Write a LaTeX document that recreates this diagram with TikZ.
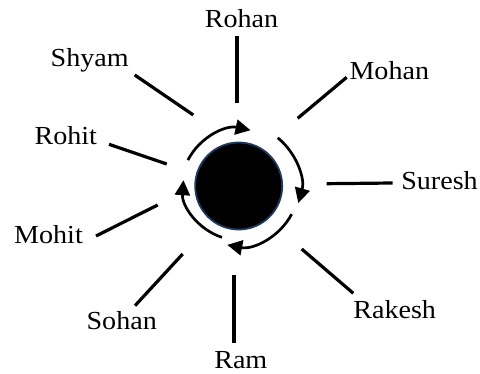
\documentclass[tikz,border=0pt]{standalone}
\usepackage{fontspec}
\setmainfont{Liberation Serif}[FakeStretch=1.08]
\usetikzlibrary{arrows.meta}
\definecolor{rimblue}{HTML}{1F3A60}
\begin{document}
\begin{tikzpicture}[x=1pt,y=-1pt,
  lbl/.style={anchor=base, inner sep=0pt, font=\fontsize{26}{30}\selectfont},
  spoke/.style={line width=3.2pt},
  cyc/.style={line width=2.7pt, -{Triangle[length=15pt,width=15pt]}}]
\useasboundingbox (0,0) rectangle (480,374);
% centre
\node[circle, fill=black, draw=rimblue, line width=1.8pt, minimum size=87pt, inner sep=0pt] (hub) at (238.7,186) {};
\coordinate (c) at (238.7,186);
% labels
\node[lbl] (rohan)  at (241.5,27.7) {Rohan};
\node[lbl] (shyam)  at (89.7,66.7)  {Shyam};
\node[lbl] (mohan)  at (389.3,80)   {Mohan};
\node[lbl] (rohit)  at (65.8,145)   {Rohit};
\node[lbl] (suresh) at (439.5,190)  {Suresh};
\node[lbl] (mohit)  at (48.5,244)   {Mohit};
\node[lbl] (sohan)  at (121.7,329.3){Sohan};
\node[lbl] (ram)    at (240.8,368.3){Ram};
\node[lbl] (rakesh) at (394.7,319)  {Rakesh};
% spoke end points
\coordinate (rohanA) at (237,36);      \coordinate (rohanB) at (237,103);
\coordinate (shyamA) at (134.7,75);    \coordinate (shyamB) at (193.3,115);
\coordinate (mohanA) at (346.7,77.3);  \coordinate (mohanB) at (297.7,118.3);
\coordinate (rohitA) at (109,144.3);   \coordinate (rohitB) at (166.7,164);
\coordinate (sureshA) at (392.7,183);  \coordinate (sureshB) at (326.7,183.7);
\coordinate (mohitA) at (96,236);      \coordinate (mohitB) at (157.7,205);
\coordinate (sohanA) at (135,305.7);   \coordinate (sohanB) at (182.7,254);
\coordinate (ramA) at (234,343);       \coordinate (ramB) at (234,275);
\coordinate (rakeshA) at (353.3,293.3);\coordinate (rakeshB) at (301.7,249);
\foreach \n in {rohan,shyam,mohan,rohit,suresh,mohit,sohan,ram,rakesh}
  \draw[spoke] (\n A) -- (\n B);
% cycle arrows (clockwise)
\draw[cyc] ([shift={(-153:57)}]c) arc[start angle=-153, end angle=-78, radius=57];
\draw[cyc] ([shift={(-51:62)}]c) arc[start angle=-51, end angle=16, radius=62];
\draw[cyc] ([shift={(28:60)}]c) arc[start angle=28, end angle=101, radius=60];
\draw[cyc] ([shift={(108:54)}]c) arc[start angle=108, end angle=184, radius=56];
\end{tikzpicture}
\end{document}
